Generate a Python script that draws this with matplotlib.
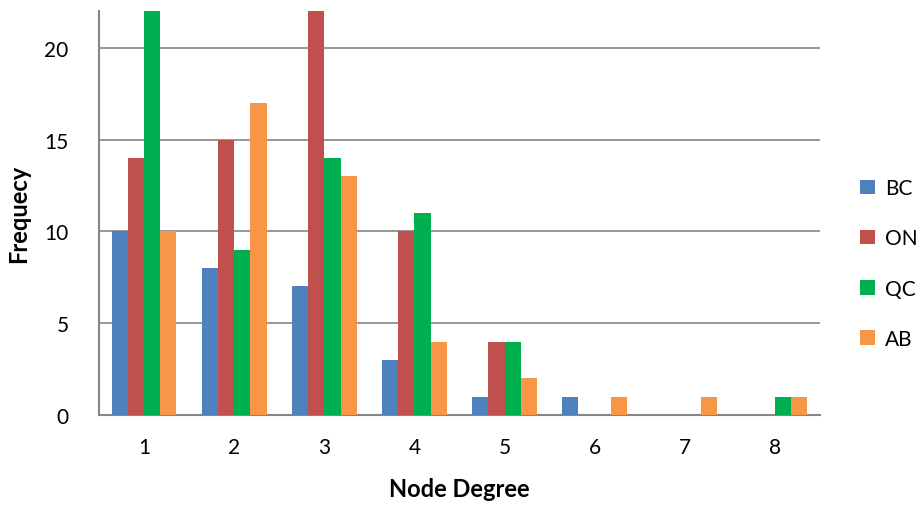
import numpy as np
import matplotlib.pyplot as plt

degrees = [1, 2, 3, 4, 5, 6, 7, 8]
bc = [10, 8, 7, 3, 1, 1, 0, 0]
on = [14, 15, 22, 10, 4, 0, 0, 0]
qc = [22, 9, 14, 11, 4, 0, 0, 1]
ab = [10, 17, 13, 4, 2, 1, 1, 1]

series = [('BC', bc, '#4F81BD'), ('ON', on, '#C0504D'),
          ('QC', qc, '#00B050'), ('AB', ab, '#F79646')]

plt.rcParams['font.family'] = ['Lato', 'DejaVu Sans']
fig = plt.figure(figsize=(9.2, 5.06), dpi=100)
ax = fig.add_axes([0.1076, 0.178, 0.7837, 0.798])

w = 0.18
x = np.array(degrees)
for i, (name, vals, col) in enumerate(series):
    ax.bar(x + (i - 1.5) * w, vals, width=w, color=col, label=name, zorder=3)

ax.set_xlim(0.5, 8.5)
ax.set_ylim(0, 22)
ax.set_yticks([0, 5, 10, 15, 20])
ax.set_xticks(degrees)
ax.yaxis.grid(True, color='#868686', linewidth=1.2, zorder=0)
for s in ['top', 'right']:
    ax.spines[s].set_visible(False)
for s in ['left', 'bottom']:
    ax.spines[s].set_color('#868686')
    ax.spines[s].set_linewidth(1.5)
ax.tick_params(axis='y', length=0, labelsize=15, pad=22)
ax.tick_params(axis='x', length=0, labelsize=15, pad=16)

ax.set_xlabel('Node Degree', fontsize=17, fontweight='bold', labelpad=14)
ax.set_ylabel('Frequecy', fontsize=17, fontweight='bold', labelpad=10)

ax.legend(loc='center left', bbox_to_anchor=(1.03, 0.375), frameon=False,
          fontsize=15, handlelength=0.7, handleheight=0.7,
          labelspacing=1.45, handletextpad=0.5)

plt.savefig('out.png', dpi=100)
